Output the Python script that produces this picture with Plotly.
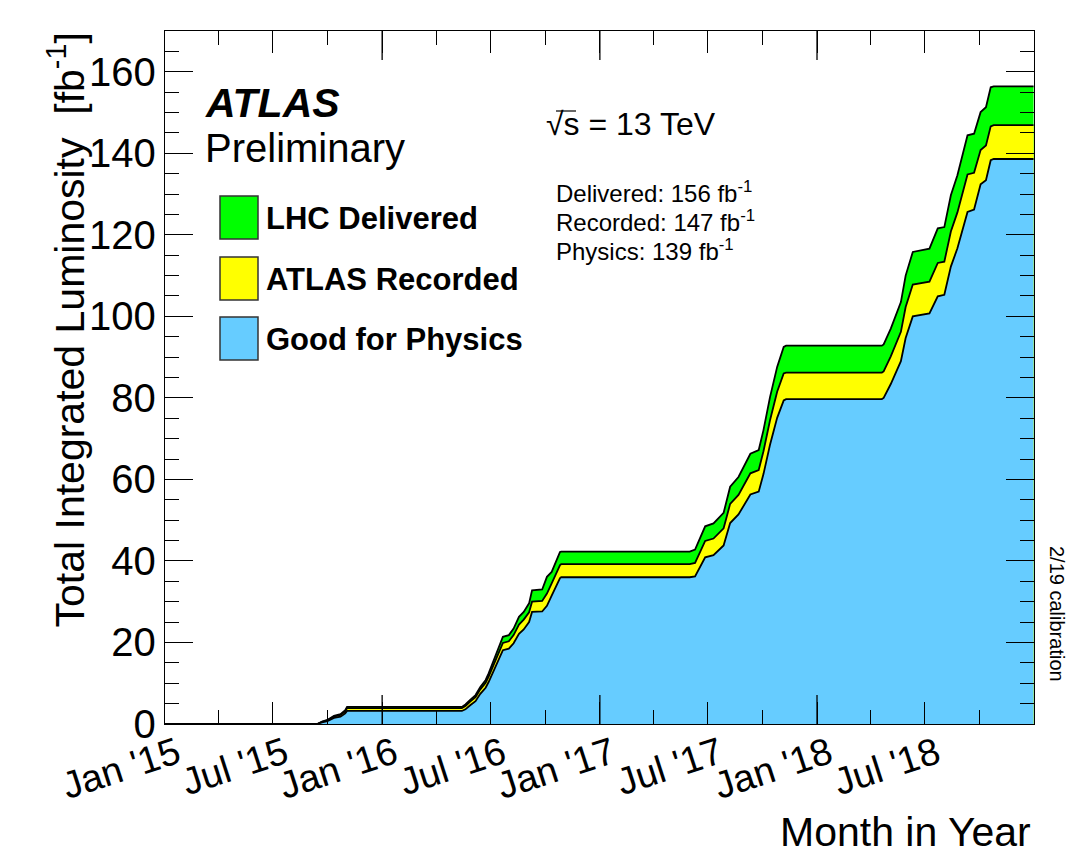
import plotly.graph_objects as go

# ---------------- data ----------------
dates = [
    "2015-01-01", "2015-09-14", "2015-09-22", "2015-10-01", "2015-10-12", "2015-10-23",
    "2015-10-31", "2015-11-03",
    "2016-05-14", "2016-05-20", "2016-05-28", "2016-06-06", "2016-06-14", "2016-06-23",
    "2016-06-28", "2016-07-07", "2016-07-15", "2016-07-22", "2016-08-01", "2016-08-09",
    "2016-08-18", "2016-08-26", "2016-09-04", "2016-09-09", "2016-09-26", "2016-10-04",
    "2016-10-12", "2016-10-18", "2016-10-26", "2016-10-28",
    "2017-06-01", "2017-06-10", "2017-06-27", "2017-07-11", "2017-07-28", "2017-08-08",
    "2017-08-22", "2017-09-11", "2017-09-25", "2017-10-03", "2017-10-14", "2017-10-26",
    "2017-11-06", "2017-11-10",
    "2018-04-20", "2018-04-23", "2018-05-05", "2018-05-22", "2018-05-30", "2018-06-11",
    "2018-07-09", "2018-07-23", "2018-08-03", "2018-08-14", "2018-08-25", "2018-09-11",
    "2018-09-22", "2018-10-03", "2018-10-12", "2018-10-20", "2018-10-25", "2018-12-31",
]
delivered = [
    0, 0, 0.6, 1.0, 2.0, 2.4, 3.4, 4.2,
    4.2, 4.8, 5.9, 7.1, 9.1, 10.8, 12.4, 15.7, 18.9, 21.4, 21.8, 23.4,
    26.3, 27.5, 29.6, 32.8, 33.0, 36.1, 37.3, 39.4, 42.2, 42.3,
    42.3, 42.8, 48.5, 49.2, 51.8, 58.2, 60.6, 66.3, 67.2, 72.1, 80.2, 87.6, 92.5, 92.8,
    92.8, 93.1, 97.0, 103.5, 110.0, 115.8, 116.6, 121.6, 121.9, 129.7, 134.6, 144.4,
    144.8, 150.1, 151.3, 156.2, 156.4, 156.4,
]
recorded = [
    0, 0, 0.5, 0.9, 1.8, 2.2, 3.1, 3.9,
    3.9, 4.4, 5.5, 6.6, 8.5, 10.1, 11.6, 14.7, 17.6, 19.9, 20.3, 21.8,
    24.4, 25.6, 27.4, 30.0, 30.2, 32.0, 34.5, 36.5, 39.0, 39.2,
    39.2, 39.5, 44.9, 45.5, 48.0, 54.0, 56.2, 61.5, 62.3, 66.9, 74.5, 81.5, 86.0, 86.2,
    86.2, 86.5, 90.2, 96.2, 102.3, 107.8, 108.5, 113.1, 113.4, 120.8, 125.5, 134.8,
    135.2, 140.8, 141.9, 146.6, 146.9, 146.9,
]
physics = [
    0, 0, 0.4, 0.7, 1.5, 1.8, 2.6, 3.2,
    3.2, 3.6, 4.6, 5.6, 7.4, 8.9, 10.3, 13.2, 16.0, 18.1, 18.5, 19.8,
    22.1, 23.2, 25.0, 27.5, 27.6, 29.0, 31.5, 33.5, 35.8, 36.0,
    36.0, 36.2, 40.9, 41.4, 43.8, 49.3, 51.4, 56.3, 57.0, 61.3, 68.5, 75.1, 79.4, 79.7,
    79.7, 80.0, 83.4, 89.0, 94.7, 100.0, 100.7, 104.9, 105.3, 112.2, 116.7, 125.6,
    126.2, 132.4, 133.4, 138.3, 138.6, 138.6,
]

series_names = ["LHC Delivered", "ATLAS Recorded", "Good for Physics"]
series_colors = ["#00FF00", "#FFFF00", "#66CCFF"]
series_values = [delivered, recorded, physics]
totals_text = ["Delivered: 156 fb<sup>-1</sup>",
               "Recorded: 147 fb<sup>-1</sup>",
               "Physics: 139 fb<sup>-1</sup>"]
jan_ticks = ["2016-01-01", "2017-01-01", "2018-01-01"]

FONT = "Liberation Sans"

# ---------------- geometry helpers ----------------
W, H = 1071, 855
L, R, T, B = 165, 1034, 31, 724


def px(x):
    return (x - L) / (R - L)


def py(y):
    return (B - y) / (B - T)


fig = go.Figure()
for name, col, vals in zip(series_names, series_colors, series_values):
    fig.add_trace(go.Scatter(
        x=dates, y=vals, name=name, mode="lines",
        line=dict(color="black", width=1.8, shape="linear"),
        fill="tozeroy", fillcolor=col, showlegend=False,
    ))

fig.update_layout(
    width=W, height=H,
    margin=dict(l=L, r=W - R, t=T, b=H - B),
    paper_bgcolor="white", plot_bgcolor="white",
    font=dict(family=FONT, color="black"),
)

fig.update_xaxes(
    type="date", range=["2015-01-01", "2018-12-31 18:00"],
    tick0="2015-01-01", dtick="M6", tickformat="%b '%y",
    ticks="inside", ticklen=22, tickwidth=1.3, tickcolor="black",
    minor=dict(dtick="M3", ticks="inside", ticklen=14, tickwidth=1.3, tickcolor="black"),
    showline=True, linecolor="black", linewidth=1.3, mirror="allticks",
    showgrid=False, zeroline=False,
    tickangle=-18, tickfont=dict(size=38, family=FONT),
    ticklabelshift=12, ticklabelstandoff=-8,
)
fig.update_yaxes(
    range=[0, 170], tick0=0, dtick=20,
    ticks="inside", ticklen=28, tickwidth=1.3, tickcolor="black",
    minor=dict(dtick=5, ticks="inside", ticklen=14, tickwidth=1.3, tickcolor="black"),
    showline=True, linecolor="black", linewidth=1.3, mirror="allticks",
    showgrid=False, zeroline=False,
    tickfont=dict(size=40, family=FONT),
)

shapes = []
# longer January ticks (bottom and top)
for d in jan_ticks:
    shapes.append(dict(type="line", xref="x", yref="paper", x0=d, x1=d, y0=0, y1=29 / (B - T),
                       line=dict(color="black", width=1.3)))
    shapes.append(dict(type="line", xref="x", yref="paper", x0=d, x1=d, y0=1, y1=1 - 29 / (B - T),
                       line=dict(color="black", width=1.3)))

# legend boxes
box_tops = [196, 257, 317]
for top, col in zip(box_tops, series_colors):
    shapes.append(dict(type="rect", xref="paper", yref="paper",
                       x0=px(220), x1=px(258), y0=py(top), y1=py(top + 43),
                       fillcolor=col, line=dict(color="#333333", width=1.5)))

# overline of sqrt(s)
shapes.append(dict(type="line", xref="paper", yref="paper",
                   x0=px(556), x1=px(576), y0=py(111), y1=py(111),
                   line=dict(color="black", width=1.2)))

annotations = []
annotations.append(dict(text="<b><i>ATLAS</i></b>", x=px(203), y=py(103), xref="paper", yref="paper",
                        xanchor="left", yanchor="middle", showarrow=False, font=dict(size=41, family=FONT)))
annotations.append(dict(text="Preliminary", x=px(203), y=py(148), xref="paper", yref="paper",
                        xanchor="left", yanchor="middle", showarrow=False, font=dict(size=40, family=FONT)))
for top, name in zip(box_tops, series_names):
    annotations.append(dict(text="<b>" + name + "</b>", x=px(264), y=py(top + 22), xref="paper", yref="paper",
                            xanchor="left", yanchor="middle", showarrow=False, font=dict(size=31, family=FONT)))
annotations.append(dict(text="√s = 13 TeV", x=px(544), y=py(124), xref="paper", yref="paper",
                        xanchor="left", yanchor="middle", showarrow=False, font=dict(size=32, family=FONT)))
for i, t in enumerate(totals_text):
    annotations.append(dict(text=t, x=px(554), y=py(192 + 29 * i), xref="paper", yref="paper",
                            xanchor="left", yanchor="middle", showarrow=False, font=dict(size=24, family=FONT)))
annotations.append(dict(text="Total Integrated Luminosity&nbsp; [fb<sup>-1</sup>]", x=px(66), y=1.0,
                        xref="paper", yref="paper", xanchor="center", yanchor="top", textangle=-90,
                        showarrow=False, font=dict(size=41, family=FONT)))
annotations.append(dict(text="Month in Year", x=px(1033), y=py(832), xref="paper", yref="paper",
                        xanchor="right", yanchor="middle", showarrow=False, font=dict(size=41, family=FONT)))
annotations.append(dict(text="2/19 calibration", x=px(1057), y=py(614), xref="paper", yref="paper",
                        xanchor="center", yanchor="middle", textangle=90,
                        showarrow=False, font=dict(size=20, family=FONT)))

fig.update_layout(shapes=shapes, annotations=annotations)
fig.write_html("out.html")
